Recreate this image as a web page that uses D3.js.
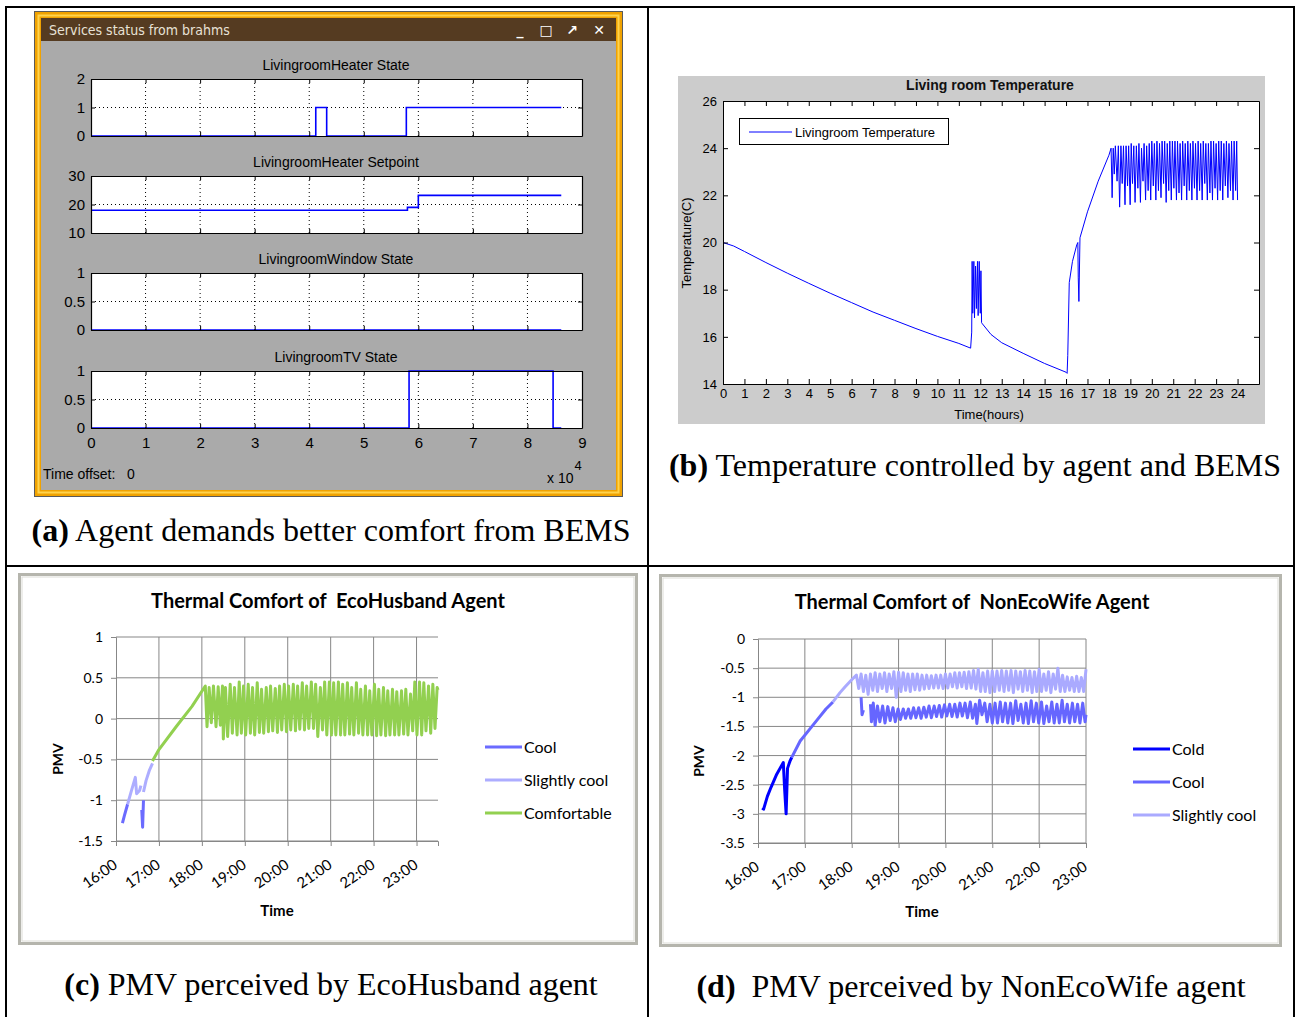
<!DOCTYPE html>
<html>
<head>
<meta charset="utf-8">
<script src="https://cdn.jsdelivr.net/npm/d3@7"></script>
<style>
    body { margin: 0; background: #fff; }
    .matlab text { font-family: 'Liberation Sans Narrow', 'Liberation Sans', Arial, sans-serif; }
    .excel text { font-family: Lato, 'Open Sans', sans-serif; }
    .caption { font-family: 'Liberation Serif', 'Times New Roman', serif; font-size: 32px; }
    .pre { white-space: pre; }
</style>
</head>
<body>
<svg id="fig" width="1298" height="1017"></svg>
<script>
/* * * * * * * * * * * * * *
*           DATA           *
* * * * * * * * * * * * * */

// (a) brahms services status, x in units of 10^4 s
const statusTitles = ["LivingroomHeater State", "LivingroomHeater Setpoint", "LivingroomWindow State", "LivingroomTV State"];
const statusYTicks = [[0, 1, 2], [10, 20, 30], [0, 0.5, 1], [0, 0.5, 1]];
const statusXTicks = [0, 1, 2, 3, 4, 5, 6, 7, 8, 9];
const heaterState = [[0, 0], [4.12, 1], [4.32, 0], [5.78, 1], [8.62, 1]];
const heaterSetpoint = [[0, 18], [5.8, 19], [6.0, 23.2], [8.62, 23.2]];
const windowState = [[0, 0], [8.62, 0]];
const tvState = [[0, 0], [5.83, 1], [8.47, 0], [8.62, 0]];

// (b) living room temperature, [hour, degC]
const tempXTicks = [0, 1, 2, 3, 4, 5, 6, 7, 8, 9, 10, 11, 12, 13, 14, 15, 16, 17, 18, 19, 20, 21, 22, 23, 24];
const tempYTicks = [14, 16, 18, 20, 22, 24, 26];
const tempMorning = [[0, 20], [0.5, 19.85], [1, 19.62], [2, 19.15], [3, 18.7], [4, 18.27], [5, 17.85], [6, 17.45],
    [7, 17.05], [8, 16.7], [9, 16.35], [10, 16.02], [11, 15.72], [11.55, 15.52]];
const tempNoonSpike = [[11.6, 16.2], [11.62, 19.2], [11.65, 17.0], [11.7, 19.2], [11.73, 16.8], [11.78, 19.0],
    [11.82, 17.2], [11.87, 19.2], [11.9, 16.9], [11.95, 19.2], [12.0, 17.0], [12.03, 18.8], [12.06, 16.6]];
const tempAfternoon = [[12.1, 16.55], [12.5, 16.1], [13, 15.75], [14, 15.3], [15, 14.87], [16, 14.5], [16.05, 14.45],
    [16.08, 15.2], [16.15, 18.3], [16.3, 19.2], [16.5, 19.9], [16.55, 20.0], [16.57, 18.5], [16.6, 17.5],
    [16.65, 20.2], [17, 21.3], [17.5, 22.6], [18, 23.7], [18.1, 24.0]];
const tempEvening = [[18.15, 21.9], [18.2, 24.0], [18.25, 22.9], [18.3, 24.1], [18.38, 22.6], [18.44, 24.1],
    [18.5, 21.5], [18.56, 24.1], [18.62, 22.5], [18.68, 24.1], [18.75, 21.6], [18.8, 24.1], [18.87, 22.4],
    [18.92, 24.1], [18.99, 21.6], [19.04, 24.2], [19.1, 22.5], [19.16, 24.1], [19.22, 21.7], [19.28, 24.1],
    [19.35, 22.3], [19.4, 24.2], [19.47, 21.7], [19.52, 24.0], [19.59, 22.6], [19.64, 24.2], [19.71, 21.8],
    [19.76, 24.1], [19.83, 22.2], [19.88, 24.2], [19.95, 21.8], [20.0, 24.3], [20.07, 22.4], [20.12, 24.2],
    [20.19, 21.8], [20.24, 24.3], [20.31, 22.2], [20.36, 24.2], [20.43, 21.9], [20.48, 24.3], [20.55, 22.5],
    [20.6, 24.3], [20.67, 21.7], [20.72, 24.2], [20.79, 22.2], [20.84, 24.3], [20.91, 21.8], [20.96, 24.3],
    [21.03, 22.3], [21.08, 24.3], [21.15, 21.8], [21.2, 24.3], [21.27, 22.1], [21.32, 24.2], [21.39, 21.8],
    [21.44, 24.3], [21.51, 22.4], [21.56, 24.2], [21.63, 21.8], [21.68, 24.3], [21.75, 22.2], [21.8, 24.2],
    [21.87, 21.8], [21.92, 24.3], [21.99, 22.3], [22.04, 24.2], [22.11, 21.8], [22.16, 24.3], [22.23, 22.2],
    [22.28, 24.2], [22.35, 21.8], [22.4, 24.3], [22.47, 22.5], [22.52, 24.2], [22.59, 21.8], [22.64, 24.2],
    [22.71, 22.1], [22.76, 24.3], [22.83, 21.8], [22.88, 24.3], [22.95, 22.3], [23.0, 24.2], [23.07, 21.8],
    [23.12, 24.3], [23.19, 22.2], [23.24, 24.3], [23.31, 21.8], [23.36, 24.2], [23.43, 22.4], [23.48, 24.3],
    [23.55, 21.9], [23.6, 24.2], [23.67, 22.2], [23.72, 24.3], [23.79, 21.8], [23.84, 24.3], [23.91, 22.2],
    [23.96, 24.3], [24.0, 21.8]];

// (c) EcoHusband PMV, [hour, pmv], each series is a list of segments
const pmvHours = [16, 17, 18, 19, 20, 21, 22, 23];
const husbandYTicks = [-1.5, -1, -0.5, 0, 0.5, 1];
const husbandCool = [
    [[16.15, -1.28], [16.2, -1.18], [16.27, -1.05]],
    [[16.6, -1.12], [16.62, -1.33], [16.64, -1.0]]
];
const husbandSlightlyCool = [
    [[16.27, -1.05], [16.35, -0.9], [16.45, -0.72], [16.48, -0.92], [16.55, -0.88], [16.58, -0.82]],
    [[16.64, -0.9], [16.7, -0.76], [16.78, -0.63], [16.85, -0.55]]
];
const husbandComfortable = [
    [[16.85, -0.52], [17.0, -0.38], [17.4, -0.1], [17.77, 0.15], [18.08, 0.4], [18.12, -0.1], [18.17, 0.38],
    [18.22, -0.05], [18.27, 0.4], [18.33, -0.1], [18.38, 0.39], [18.43, -0.08], [18.48, 0.4], [18.5, -0.25],
    [18.55, 0.38], [18.6, -0.22], [18.66, 0.42], [18.71, -0.18], [18.76, 0.38], [18.82, -0.2], [18.87, 0.45],
    [18.92, -0.18], [18.97, 0.4], [19.02, -0.2], [19.08, 0.42], [19.13, -0.18], [19.18, 0.38], [19.23, -0.2],
    [19.29, 0.44], [19.34, -0.17], [19.39, 0.36], [19.44, -0.18], [19.5, 0.38], [19.55, -0.16], [19.6, 0.4],
    [19.65, -0.15], [19.71, 0.37], [19.76, -0.17], [19.81, 0.4], [19.86, -0.14], [19.92, 0.42], [19.97, -0.16],
    [20.02, 0.4], [20.07, -0.14], [20.13, 0.42], [20.18, -0.15], [20.23, 0.4], [20.28, -0.13], [20.34, 0.44],
    [20.39, -0.14], [20.44, 0.4], [20.49, -0.12], [20.55, 0.45], [20.6, -0.12], [20.65, 0.42], [20.7, -0.22],
    [20.76, 0.38], [20.81, -0.14], [20.86, 0.45], [20.91, -0.2], [20.97, 0.45], [21.02, -0.2], [21.07, 0.44],
    [21.12, -0.2], [21.18, 0.45], [21.23, -0.2], [21.28, 0.42], [21.33, -0.2], [21.39, 0.44], [21.44, -0.19],
    [21.49, 0.38], [21.54, -0.2], [21.6, 0.44], [21.65, -0.18], [21.7, 0.36], [21.75, -0.2], [21.81, 0.4],
    [21.86, -0.2], [21.91, 0.34], [21.96, -0.2], [22.02, 0.42], [22.07, -0.21], [22.12, 0.36], [22.17, -0.2],
    [22.23, 0.38], [22.28, -0.21], [22.33, 0.34], [22.38, -0.2], [22.44, 0.36], [22.49, -0.2], [22.54, 0.33],
    [22.59, -0.2], [22.65, 0.34], [22.7, -0.19], [22.75, 0.36], [22.8, -0.2], [22.86, 0.3], [22.91, -0.15],
    [22.96, 0.45], [23.01, -0.2], [23.07, 0.45], [23.12, -0.2], [23.17, 0.44], [23.22, -0.15], [23.28, 0.4],
    [23.33, -0.18], [23.38, 0.42], [23.43, -0.12], [23.48, 0.38], [23.5, 0.35]]
];

// (d) NonEcoWife PMV, [hour, pmv]
const wifeYTicks = [-3.5, -3, -2.5, -2, -1.5, -1, -0.5, 0];
const wifeCold = [
    [[16.09, -2.9], [16.12, -2.92], [16.2, -2.7], [16.28, -2.54], [16.4, -2.32], [16.54, -2.12], [16.57, -2.6],
    [16.6, -3.0], [16.63, -2.22], [16.68, -2.1], [16.72, -2.03]]
];
const wifeCool = [
    [[16.72, -2.03], [16.9, -1.75], [17.1, -1.55], [17.25, -1.4], [17.45, -1.2], [17.6, -1.08]],
    [[18.2, -1.0], [18.22, -1.3], [18.25, -1.22]],
    [[18.4, -1.12], [18.42, -1.42], [18.46, -1.1], [18.5, -1.48], [18.55, -1.15], [18.6, -1.42], [18.66, -1.15],
    [18.71, -1.44], [18.77, -1.16], [18.82, -1.4], [18.88, -1.18], [18.93, -1.42], [18.99, -1.2], [19.04, -1.38],
    [19.1, -1.2], [19.15, -1.36], [19.21, -1.2], [19.26, -1.36], [19.32, -1.18], [19.37, -1.35], [19.43, -1.18],
    [19.48, -1.36], [19.54, -1.17], [19.59, -1.34], [19.65, -1.15], [19.7, -1.35], [19.76, -1.15], [19.81, -1.33],
    [19.87, -1.14], [19.92, -1.34], [19.98, -1.13], [20.03, -1.32], [20.09, -1.12], [20.14, -1.33], [20.2, -1.12],
    [20.25, -1.34], [20.31, -1.1], [20.36, -1.32], [20.42, -1.1], [20.47, -1.35], [20.53, -1.08], [20.58, -1.36],
    [20.64, -1.12], [20.67, -1.45], [20.73, -1.05], [20.78, -1.3], [20.84, -1.1], [20.89, -1.42], [20.95, -1.12],
    [21.0, -1.44], [21.06, -1.1], [21.11, -1.44], [21.17, -1.08], [21.22, -1.42], [21.28, -1.1], [21.33, -1.44],
    [21.39, -1.1], [21.44, -1.45], [21.5, -1.06], [21.55, -1.4], [21.61, -1.12], [21.66, -1.44], [21.72, -1.1],
    [21.77, -1.45], [21.83, -1.06], [21.88, -1.42], [21.94, -1.1], [21.99, -1.44], [22.05, -1.08], [22.1, -1.45],
    [22.16, -1.15], [22.21, -1.42], [22.27, -1.08], [22.32, -1.44], [22.38, -1.12], [22.43, -1.44], [22.49, -1.05],
    [22.54, -1.42], [22.6, -1.12], [22.65, -1.44], [22.71, -1.1], [22.76, -1.42], [22.82, -1.12], [22.87, -1.44],
    [22.93, -1.1], [22.98, -1.42], [23.0, -1.3]]
];
const wifeSlightlyCool = [
    [[17.6, -1.08], [17.75, -0.92], [17.86, -0.82], [18.0, -0.7], [18.1, -0.62], [18.15, -0.85], [18.2, -0.6],
    [18.25, -0.9], [18.3, -0.62], [18.35, -0.95], [18.4, -0.6], [18.45, -0.88], [18.5, -0.58], [18.55, -0.9],
    [18.6, -0.6], [18.65, -0.85], [18.7, -0.58], [18.75, -0.9], [18.8, -0.6], [18.85, -0.85], [18.9, -0.56],
    [18.95, -1.0], [19.0, -0.57], [19.05, -0.9], [19.1, -0.58], [19.15, -0.88], [19.2, -0.6], [19.25, -0.9],
    [19.3, -0.6], [19.35, -0.87], [19.4, -0.6], [19.45, -0.88], [19.5, -0.62], [19.55, -0.86], [19.6, -0.62],
    [19.65, -0.85], [19.7, -0.63], [19.75, -0.84], [19.8, -0.62], [19.85, -0.84], [19.9, -0.62], [19.95, -0.85],
    [20.0, -0.6], [20.05, -0.84], [20.1, -0.6], [20.15, -0.82], [20.2, -0.58], [20.25, -0.84], [20.3, -0.58],
    [20.35, -0.82], [20.4, -0.57], [20.45, -0.85], [20.5, -0.56], [20.55, -0.84], [20.6, -0.54], [20.65, -0.86],
    [20.7, -0.52], [20.75, -0.9], [20.8, -0.58], [20.85, -0.9], [20.9, -0.55], [20.95, -0.92], [21.0, -0.55],
    [21.05, -0.9], [21.1, -0.55], [21.15, -0.88], [21.2, -0.54], [21.25, -0.9], [21.3, -0.55], [21.35, -0.88],
    [21.4, -0.54], [21.45, -0.92], [21.5, -0.55], [21.55, -0.86], [21.6, -0.56], [21.65, -0.9], [21.7, -0.54],
    [21.75, -0.88], [21.8, -0.55], [21.85, -0.92], [21.9, -0.56], [21.95, -0.9], [22.0, -0.52], [22.05, -0.9],
    [22.1, -0.6], [22.15, -0.88], [22.2, -0.56], [22.25, -0.92], [22.3, -0.6], [22.35, -0.86], [22.4, -0.5],
    [22.45, -0.9], [22.5, -0.62], [22.55, -0.9], [22.6, -0.65], [22.65, -0.88], [22.7, -0.66], [22.75, -0.9],
    [22.8, -0.64], [22.85, -0.9], [22.9, -0.66], [22.95, -0.9], [23.0, -0.52]]
];

/* * * * * * * * * * * * * *
*          FIGURE          *
* * * * * * * * * * * * * */

const svg = d3.select("#fig");
const plainNum = d => String(d);   // "-0.5" with a plain hyphen, "1" not "1.0"

// Table grid around the four panels
const table = svg.append("g").attr("stroke", "#000").attr("stroke-width", 2).attr("fill", "none");
table.append("rect").attr("x", 6).attr("y", 7).attr("width", 1288).attr("height", 1020);
table.append("line").attr("x1", 648).attr("x2", 648).attr("y1", 7).attr("y2", 1017);
table.append("line").attr("x1", 6).attr("x2", 1294).attr("y1", 566).attr("y2", 566);

function caption(x, y, label, text) {
    const t = svg.append("text").attr("class", "caption pre").attr("x", x).attr("y", y).attr("text-anchor", "middle");
    t.append("tspan").attr("font-weight", "bold").text(label);
    t.append("tspan").text(" " + text);
}

caption(331, 541, "(a)", "Agent demands better comfort from BEMS");
caption(975, 476, "(b)", "Temperature controlled by agent and BEMS");
caption(331, 995, "(c)", "PMV perceived by EcoHusband agent");
caption(971, 997, "(d)", " PMV perceived by NonEcoWife agent");

/* ---------- (a) brahms window ---------- */
function drawStatusWindow() {
    const g = svg.append("g").attr("class", "matlab");

    // window chrome
    g.append("rect").attr("x", 34.5).attr("y", 11.5).attr("width", 588).attr("height", 485)
        .attr("fill", "#f0a200").attr("stroke", "#5a5a5a");
    g.append("rect").attr("x", 38.5).attr("y", 15.5).attr("width", 580).attr("height", 477)
        .attr("fill", "none").attr("stroke", "#ffd34d").attr("stroke-width", 2);
    g.append("rect").attr("x", 41).attr("y", 18).attr("width", 575).attr("height", 23).attr("fill", "#553b21");
    g.append("rect").attr("x", 41).attr("y", 41).attr("width", 575).attr("height", 449).attr("fill", "#aaaaaa");
    g.append("text").attr("x", 49).attr("y", 35).attr("fill", "#e8e2d6")
        .style("font-family", "'DejaVu Sans Condensed', 'Open Sans', sans-serif").attr("font-size", 14)
        .text("Services status from brahms");
    const btns = [["_", 520], ["\u25A1", 546], ["\u2197", 572], ["\u2715", 599]];
    btns.forEach(([s, x]) => g.append("text").attr("x", x).attr("y", 35).attr("text-anchor", "middle")
        .attr("fill", "#fff").attr("font-size", 14).attr("font-weight", "bold")
        .style("font-family", "'DejaVu Sans', sans-serif").text(s));

    const series = [heaterState, heaterSetpoint, windowState, tvState];
    const tops = [79, 176, 273, 371];
    const h = 57;
    const xScale = d3.scaleLinear().domain([0, 9]).range([91, 582]);

    series.forEach((data, i) => {
        const ticks = statusYTicks[i];
        const yScale = d3.scaleLinear().domain(d3.extent(ticks)).range([tops[i] + h, tops[i]]);
        const p = g.append("g");

        p.append("rect").attr("x", 91).attr("y", tops[i]).attr("width", 491).attr("height", h).attr("fill", "#fff");

        // dotted grid
        p.selectAll(".vgrid").data(statusXTicks.slice(1, -1)).enter().append("line")
            .attr("x1", d => xScale(d)).attr("x2", d => xScale(d))
            .attr("y1", tops[i]).attr("y2", tops[i] + h)
            .attr("stroke", "#000").attr("stroke-dasharray", "1,3");
        p.selectAll(".hgrid").data(ticks.slice(1, -1)).enter().append("line")
            .attr("x1", 91).attr("x2", 582)
            .attr("y1", d => yScale(d)).attr("y2", d => yScale(d))
            .attr("stroke", "#000").attr("stroke-dasharray", "1,3");

        // step line
        p.append("path").datum(data)
            .attr("d", d3.line().x(d => xScale(d[0])).y(d => yScale(d[1])).curve(d3.curveStepAfter))
            .attr("fill", "none").attr("stroke", "#0000ff").attr("stroke-width", 1.6);

        // axes, ticks pointing in
        const bottom = p.append("g").attr("transform", `translate(0, ${tops[i] + h})`)
            .call(d3.axisBottom(xScale).tickValues(statusXTicks).tickSizeInner(-4).tickSizeOuter(0)
                .tickPadding(6).tickFormat(i === 3 ? plainNum : ""));
        p.append("g").attr("transform", `translate(0, ${tops[i]})`)
            .call(d3.axisTop(xScale).tickValues(statusXTicks).tickSizeInner(-4).tickSizeOuter(0).tickFormat(""));
        p.append("g").attr("transform", "translate(91, 0)")
            .call(d3.axisLeft(yScale).tickValues(ticks).tickSizeInner(-4).tickSizeOuter(0).tickPadding(6).tickFormat(plainNum));
        p.append("g").attr("transform", "translate(582, 0)")
            .call(d3.axisRight(yScale).tickValues(ticks).tickSizeInner(-4).tickSizeOuter(0).tickFormat(""));
        p.selectAll(".domain").attr("stroke", "#000").attr("stroke-width", 1.2);
        p.selectAll(".tick line").attr("stroke", "#000");
        p.selectAll(".tick text").attr("fill", "#000").attr("font-size", 15)
            .style("font-family", "'Liberation Sans Narrow', 'Liberation Sans', sans-serif");
        bottom.selectAll(".tick text").attr("dy", "0.9em");

        p.append("text").attr("x", 336).attr("y", tops[i] - 9).attr("text-anchor", "middle")
            .attr("font-size", 14).attr("fill", "#000").text(statusTitles[i]);
    });

    g.append("text").attr("class", "pre").attr("x", 43).attr("y", 479).attr("font-size", 14).attr("fill", "#000")
        .text("Time offset:   0");
    const exp = g.append("text").attr("x", 547).attr("y", 483).attr("font-size", 14).attr("fill", "#000");
    exp.append("tspan").text("x 10");
    exp.append("tspan").attr("dy", -13).attr("dx", 1).attr("font-size", 13).text("4");
}

/* ---------- (b) living room temperature ---------- */
function drawTemperature() {
    const g = svg.append("g").attr("class", "matlab");
    const m = { left: 723, right: 1259, top: 101, bottom: 384 };

    g.append("rect").attr("x", 678).attr("y", 76).attr("width", 587).attr("height", 348).attr("fill", "#cccccc");
    g.append("rect").attr("x", m.left).attr("y", m.top).attr("width", m.right - m.left)
        .attr("height", m.bottom - m.top).attr("fill", "#fff");

    const xScale = d3.scaleLinear().domain([0, 25]).range([m.left, m.right]);
    const yScale = d3.scaleLinear().domain([14, 26]).range([m.bottom, m.top]);

    const line = d3.line().x(d => xScale(d[0])).y(d => yScale(d[1]));
    const temp = tempMorning.concat(tempNoonSpike, tempAfternoon, tempEvening);
    g.append("path").datum(temp).attr("d", line)
        .attr("fill", "none").attr("stroke", "#0000ff").attr("stroke-width", 1);

    g.append("g").attr("transform", `translate(0, ${m.bottom})`)
        .call(d3.axisBottom(xScale).tickValues(tempXTicks).tickSizeInner(-5).tickSizeOuter(0).tickPadding(5).tickFormat(plainNum));
    g.append("g").attr("transform", `translate(0, ${m.top})`)
        .call(d3.axisTop(xScale).tickValues(tempXTicks).tickSizeInner(-5).tickSizeOuter(0).tickFormat(""));
    g.append("g").attr("transform", `translate(${m.left}, 0)`)
        .call(d3.axisLeft(yScale).tickValues(tempYTicks).tickSizeInner(-5).tickSizeOuter(0).tickPadding(6).tickFormat(plainNum));
    g.append("g").attr("transform", `translate(${m.right}, 0)`)
        .call(d3.axisRight(yScale).tickValues(tempYTicks).tickSizeInner(-5).tickSizeOuter(0).tickFormat(""));
    g.selectAll(".domain").attr("stroke", "#000");
    g.selectAll(".tick line").attr("stroke", "#000");
    g.selectAll(".tick text").attr("fill", "#000").attr("font-size", 13);

    g.append("text").attr("x", 990).attr("y", 90).attr("text-anchor", "middle").attr("font-size", 14)
        .attr("font-weight", "bold").attr("fill", "#111").style("font-family", "'Liberation Sans', Arial, sans-serif")
        .text("Living room Temperature");
    g.append("text").attr("x", 989).attr("y", 419).attr("text-anchor", "middle").attr("font-size", 13)
        .attr("fill", "#000").text("Time(hours)");
    g.append("text").attr("transform", "translate(691, 243) rotate(-90)").attr("text-anchor", "middle")
        .attr("font-size", 13).attr("fill", "#000").text("Temperature(C)");

    // legend
    g.append("rect").attr("x", 739.5).attr("y", 118.5).attr("width", 209).attr("height", 26)
        .attr("fill", "#fff").attr("stroke", "#000");
    g.append("line").attr("x1", 749).attr("x2", 792).attr("y1", 132).attr("y2", 132)
        .attr("stroke", "#0000ff").attr("stroke-width", 1);
    g.append("text").attr("x", 795).attr("y", 137).attr("font-size", 13).attr("fill", "#000")
        .text("Livingroom Temperature");
}

/* ---------- (c) & (d) Excel PMV charts ---------- */
function drawPmv(opts) {
    const g = svg.append("g").attr("class", "excel");
    const m = opts.plot;

    // chart frame with soft border
    g.append("rect").attr("x", opts.box[0] + 1.5).attr("y", opts.box[1] + 1.5)
        .attr("width", opts.box[2] - 3).attr("height", opts.box[3] - 3)
        .attr("fill", "#fff").attr("stroke", "#b5b5ad").attr("stroke-width", 3);
    g.append("rect").attr("x", opts.box[0] + 4).attr("y", opts.box[1] + 4)
        .attr("width", opts.box[2] - 8).attr("height", opts.box[3] - 8)
        .attr("fill", "none").attr("stroke", "#dcdcd6").attr("stroke-width", 1);

    const xScale = d3.scaleLinear().domain(opts.xDomain).range([m.left, m.right]);
    const yScale = d3.scaleLinear().domain(d3.extent(opts.yTicks)).range([m.bottom, m.top]);

    // grid
    g.selectAll(".hg").data(opts.yTicks).enter().append("line")
        .attr("x1", m.left).attr("x2", m.right)
        .attr("y1", d => yScale(d)).attr("y2", d => yScale(d))
        .attr("stroke", "#878787").attr("stroke-width", 1);
    g.selectAll(".vg").data(pmvHours.filter(h => h > opts.xDomain[0])).enter().append("line")
        .attr("x1", d => xScale(d)).attr("x2", d => xScale(d))
        .attr("y1", m.top).attr("y2", m.bottom)
        .attr("stroke", "#878787").attr("stroke-width", 1);

    // y axis
    const yAxis = g.append("g").attr("transform", `translate(${m.left}, 0)`)
        .call(d3.axisLeft(yScale).tickValues(opts.yTicks).tickSize(5).tickPadding(8).tickFormat(plainNum));
    yAxis.select(".domain").attr("stroke", "#878787");
    yAxis.selectAll(".tick line").attr("stroke", "#878787");
    yAxis.selectAll(".tick text").attr("fill", "#000").attr("font-size", 14);

    // x axis, rotated time labels
    const xAxis = g.append("g").attr("transform", `translate(0, ${m.bottom})`)
        .call(d3.axisBottom(xScale).tickValues(pmvHours).tickSize(5).tickFormat(d => d + ":00"));
    xAxis.select(".domain").attr("stroke", "#878787");
    xAxis.selectAll(".tick line").attr("stroke", "#878787");
    xAxis.selectAll(".tick text").attr("fill", "#000").attr("font-size", 15)
        .attr("text-anchor", "end").attr("dy", 0).attr("y", 0)
        .attr("transform", "translate(2, 26) rotate(-35)");

    // series
    const line = d3.line().x(d => xScale(d[0])).y(d => yScale(d[1]));
    opts.series.forEach(s => {
        g.append("g").selectAll("path").data(s.segments).enter().append("path")
            .attr("d", line).attr("fill", "none").attr("stroke", s.color)
            .attr("stroke-width", 3).attr("stroke-linejoin", "round");
    });

    // titles
    g.append("text").attr("class", "pre").attr("x", opts.titleX).attr("y", opts.box[1] + 35).attr("text-anchor", "middle")
        .attr("font-size", 20).attr("font-weight", "bold").attr("fill", "#000").text(opts.title);
    g.append("text").attr("transform", `translate(${opts.box[0] + 45}, ${(m.top + m.bottom) / 2 + 20}) rotate(-90)`)
        .attr("text-anchor", "middle").attr("font-size", 14).attr("font-weight", "bold").attr("fill", "#000").text("PMV");
    g.append("text").attr("x", (m.left + m.right) / 2).attr("y", opts.box[1] + 343).attr("text-anchor", "middle")
        .attr("font-size", 15).attr("font-weight", "bold").attr("fill", "#000").text("Time");

    // legend
    opts.series.forEach((s, i) => {
        const y = opts.legend[1] + i * 33;
        g.append("line").attr("x1", opts.legend[0]).attr("x2", opts.legend[0] + 37)
            .attr("y1", y).attr("y2", y).attr("stroke", s.color).attr("stroke-width", 3);
        g.append("text").attr("x", opts.legend[0] + 39).attr("y", y + 6).attr("font-size", 16)
            .attr("fill", "#000").text(s.name);
    });
}

drawStatusWindow();
drawTemperature();

drawPmv({
    box: [18, 573, 620, 372],
    plot: { left: 116, right: 438, top: 637, bottom: 841 },
    xDomain: [16, 23.5],
    yTicks: husbandYTicks,
    title: "Thermal Comfort of  EcoHusband Agent",
    titleX: 328,
    legend: [485, 747],
    series: [
        { name: "Cool", color: "#6b6bff", segments: husbandCool },
        { name: "Slightly cool", color: "#adadff", segments: husbandSlightlyCool },
        { name: "Comfortable", color: "#92d050", segments: husbandComfortable }
    ]
});

drawPmv({
    box: [659, 574, 623, 373],
    plot: { left: 758, right: 1086, top: 639, bottom: 843 },
    xDomain: [16, 23],
    yTicks: wifeYTicks,
    title: "Thermal Comfort of  NonEcoWife Agent",
    titleX: 972,
    legend: [1133, 749],
    series: [
        { name: "Cold", color: "#0000ff", segments: wifeCold },
        { name: "Cool", color: "#6666ff", segments: wifeCool },
        { name: "Slightly cool", color: "#aaaaff", segments: wifeSlightlyCool }
    ]
});
</script>
</body>
</html>
